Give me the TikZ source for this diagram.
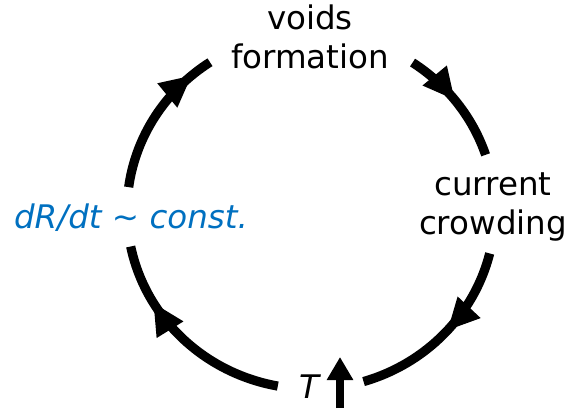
\documentclass[tikz,border=0pt]{standalone}
\usepackage{fontspec}
\setmainfont{DejaVu Sans}
\usetikzlibrary{arrows.meta,decorations.markings}
\definecolor{hintblue}{HTML}{0070C0}
\begin{document}
\begin{tikzpicture}[x=1pt,y=1pt,
  cyc/.style={line width=9.2pt, line cap=butt},
  lbl/.style={font=\fontsize{32.5}{39}\selectfont, align=center, inner sep=0pt},
  arrowat/.style={postaction={decorate}, decoration={markings,
    mark=at position #1 with {\arrow{Triangle[length=32pt,width=29pt]}}}}
]
\useasboundingbox (0,0) rectangle (568,408);
\coordinate (c) at (311,197);
\node[lbl] (voids) at (310,371) {voids\\formation};
\node[lbl] (crowd) at (493,201) {current\\crowding};
\node[lbl, anchor=base, text=hintblue, font=\fontsize{32.5}{39}\selectfont\itshape] (drdt) at (131,180) {dR/dt \char`\~{} const.};
\node[lbl, anchor=base, font=\fontsize{32.5}{39}\selectfont\itshape] (temp) at (309,10) {T};
\coordinate (ub) at (340,0);
\coordinate (ut) at (340,51);
\draw[line width=8.5pt, -{Triangle[length=23pt,width=25pt]}] (ub) -- (ut);
% arcs
\draw[cyc, arrowat=0.856] ([shift={(172.3:184 and 178)}]c) arc[start angle=172.3, end angle=123.3, x radius=184, y radius=178];
\draw[cyc, arrowat=0.475] ([shift={(56.5:184 and 178)}]c) arc[start angle=56.5, end angle=18.4, x radius=184, y radius=178];
\draw[cyc, arrowat=0.473] ([shift={(-13.8:184 and 178)}]c) arc[start angle=-13.8, end angle=-73.4, x radius=184, y radius=178];
\draw[cyc, arrowat=0.718] ([shift={(259.6:184 and 178)}]c) arc[start angle=259.6, end angle=191.5, x radius=184, y radius=178];
\end{tikzpicture}
\end{document}
